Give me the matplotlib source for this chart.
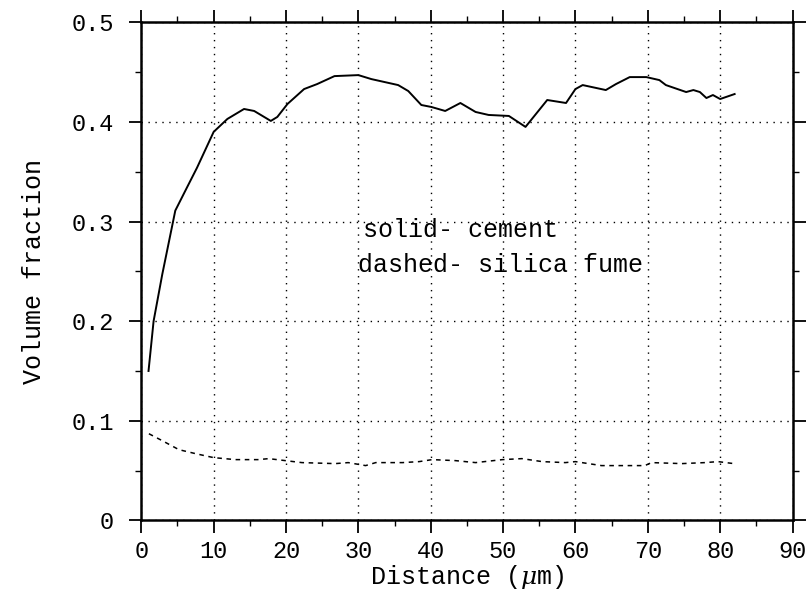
import numpy as np
import matplotlib
matplotlib.use('Agg')
from matplotlib import pyplot as plt
from matplotlib.ticker import MultipleLocator

# solid curve - cement
cement_x = [1.0, 1.7, 2.9, 4.7, 6.3, 7.7, 10.0, 11.9, 14.2, 15.6, 17.9, 18.8,
            20.2, 22.5, 24.3, 26.7, 30.0, 31.8, 35.5, 36.9, 38.7, 40.1, 42.0,
            44.1, 46.2, 48.0, 50.8, 53.1, 56.1, 58.7, 60.0, 61.0, 64.2, 65.6,
            67.5, 69.8, 71.6, 72.5, 75.3, 76.3, 77.2, 78.1, 79.0, 80.0, 82.0]
cement_y = [0.150, 0.200, 0.247, 0.311, 0.334, 0.354, 0.390, 0.403, 0.413, 0.411,
            0.401, 0.405, 0.418, 0.433, 0.438, 0.446, 0.447, 0.443, 0.437, 0.431,
            0.417, 0.415, 0.411, 0.419, 0.410, 0.407, 0.406, 0.395, 0.422, 0.419,
            0.433, 0.437, 0.432, 0.438, 0.445, 0.445, 0.442, 0.437, 0.430, 0.432,
            0.430, 0.424, 0.427, 0.423, 0.428]

# dashed curve - silica fume
silica_x = [1.05, 2.9, 5.2, 7.5, 10.0, 13.0, 16.2, 17.6, 19.9, 22.2, 26.8, 28.6,
            31.0, 32.4, 36.1, 38.4, 40.2, 43.4, 46.2, 49.9, 52.6, 55.4, 58.6,
            60.0, 63.6, 66.4, 69.6, 70.5, 74.7, 77.9, 79.7, 81.9]
silica_y = [0.087, 0.080, 0.071, 0.067, 0.063, 0.061, 0.061, 0.062, 0.060, 0.058,
            0.057, 0.058, 0.055, 0.058, 0.058, 0.059, 0.061, 0.060, 0.058, 0.061,
            0.062, 0.059, 0.058, 0.059, 0.055, 0.055, 0.055, 0.058, 0.057, 0.058,
            0.059, 0.057]

x_ticks = [0, 10, 20, 30, 40, 50, 60, 70, 80, 90]
y_ticks = [0, 0.1, 0.2, 0.3, 0.4, 0.5]
y_ticklabels = ['0', '0.1', '0.2', '0.3', '0.4', '0.5']

plt.rcParams['font.family'] = ['Liberation Mono', 'DejaVu Serif']
plt.rcParams['mathtext.fontset'] = 'dejavuserif'

fig = plt.figure(figsize=(8.12, 6.03), dpi=100)
ax = fig.add_axes([0.174, 0.137, 0.802, 0.826])

ax.plot(cement_x, cement_y, color='black', lw=1.4)
ax.plot(silica_x, silica_y, color='black', lw=1.1, linestyle=(0, (3, 3)))

ax.set_xlim(0, 90)
ax.set_ylim(0, 0.5)
ax.set_xticks(x_ticks)
ax.set_yticks(y_ticks)
ax.set_yticklabels(y_ticklabels)
ax.xaxis.set_minor_locator(MultipleLocator(5))
ax.yaxis.set_minor_locator(MultipleLocator(0.05))

ax.grid(True, which='major', color='black', linestyle=(0, (1, 4)), lw=1.0)
ax.tick_params(which='major', direction='out', length=9, width=1.3,
               top=True, right=True, labelsize=17)
ax.tick_params(axis='y', which='major', pad=11)
ax.tick_params(axis='x', which='major', pad=5)
ax.tick_params(which='minor', direction='out', length=4, width=1.0,
               top=True, right=True)
for s in ax.spines.values():
    s.set_linewidth(1.8)

ax.set_xlabel('Distance ($\\mu$m)', fontsize=18, labelpad=0)
ax.set_ylabel('Volume fraction', fontsize=18, labelpad=18)

ax.text(30.7, 0.292, 'solid- cement', fontsize=18, va='center')
ax.text(30.0, 0.256, 'dashed- silica fume', fontsize=18, va='center')

fig.savefig('out.png', dpi=100)
